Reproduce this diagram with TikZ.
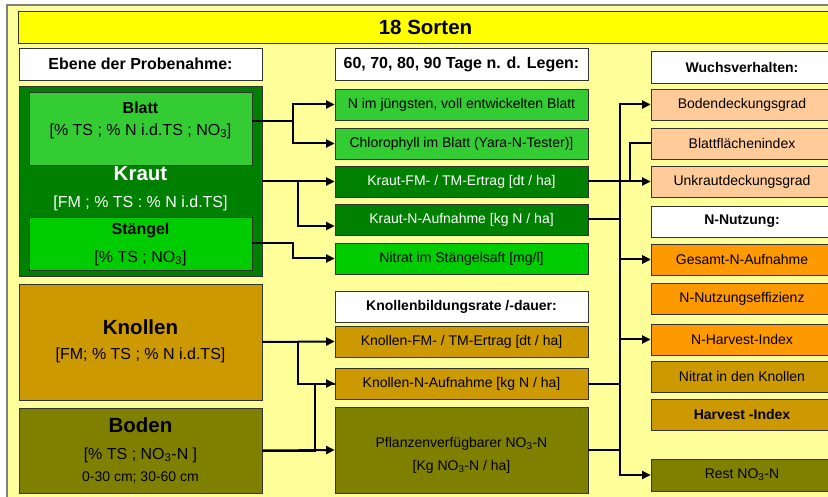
\documentclass[tikz,border=0pt]{standalone}
\usepackage{fontspec}
\setmainfont{Liberation Sans}
\usetikzlibrary{arrows.meta,positioning,calc,shadows}
\definecolor{paleyellow}{HTML}{FFFF99}
\definecolor{titleyellow}{HTML}{FFFF00}
\definecolor{krautgreen}{HTML}{008000}
\definecolor{leafgreen}{HTML}{33CC33}
\definecolor{stemgreen}{HTML}{00CC00}
\definecolor{tuberbrown}{HTML}{CC9900}
\definecolor{soilolive}{HTML}{808000}
\definecolor{peach}{HTML}{FFCC99}
\definecolor{nitroorange}{HTML}{FF9900}

\begin{document}
\begin{tikzpicture}[
    x=1pt, y=-1pt,
    cell/.style={rectangle, draw=black!80, line width=0.7pt, inner sep=0pt, align=center,
        drop shadow={shadow xshift=1.2pt, shadow yshift=-1.2pt, opacity=0.4, fill=black}},
    midbox/.style={cell, fill=#1, minimum width=253pt, minimum height=31pt, font=\fontsize{14}{17}\selectfont},
    sidebox/.style={cell, fill=#1, minimum width=182pt, minimum height=31pt, font=\fontsize{14}{17}\selectfont},
    headbox/.style={cell, fill=white, minimum height=32pt, font=\fontsize{16}{19}\selectfont\bfseries},
    smallhead/.style={headbox, minimum height=31pt, font=\fontsize{14}{17}\selectfont\bfseries},
    bigtext/.style={inner sep=0pt, font=\fontsize{20.5}{24}\selectfont\bfseries},
    nametext/.style={inner sep=0pt, font=\fontsize{16}{19}\selectfont\bfseries},
    subtext/.style={inner sep=0pt, font=\fontsize{16}{19}\selectfont},
    link/.style={-{Triangle[length=8.5pt, width=8pt]}, line width=2pt},
    wire/.style={line width=2pt}
]
\useasboundingbox (0,0) rectangle (828,497);

% Frame
\fill[white] (0,0) rectangle (828,497);
\draw[fill=paleyellow, draw=gray, line width=1.5pt] (7,5) rectangle (860,520);
\node[cell, fill=titleyellow, minimum width=815pt, minimum height=32pt,
      font=\fontsize{20.5}{24}\selectfont\bfseries] (title) at (425.5,27) {18 Sorten};

% Headers
\node[headbox, minimum width=243pt] (ebene) at (140.5,64) {Ebene der Probenahme:};
\node[headbox, minimum width=253pt] (tage) at (461.5,64) {60, 70, 80, 90 Tage n. d. Legen:};
\node[smallhead, minimum width=182pt, minimum height=32pt] (wuchs) at (742,67) {Wuchsverhalten:};

% Sampling levels
\node[cell, fill=krautgreen, minimum width=243pt, minimum height=190pt] (kraut) at (140.5,181) {};
\node[cell, fill=leafgreen, minimum width=223pt, minimum height=73pt] (blatt) at (140.5,128.5) {};
\node[nametext] (blattname) at (140.5,108) {Blatt};
\node[subtext] (blattunit) at (140.5,131) {[\% TS ; \% N i.d.TS ; NO\textsubscript{3}]};
\node[bigtext, text=white] (krautname) at (140.5,174) {Kraut};
\node[subtext, text=white] (krautunit) at (140.5,203) {[FM ; \% TS : \% N i.d.TS]};
\node[cell, fill=stemgreen, minimum width=223pt, minimum height=53pt] (staengel) at (140.5,243.5) {};
\node[nametext] (staengelname) at (140.5,230) {Stängel};
\node[subtext] (staengelunit) at (140.5,258) {[\% TS ; NO\textsubscript{3}]};

\node[cell, fill=tuberbrown, minimum width=243pt, minimum height=116pt] (knollen) at (140.5,342) {};
\node[bigtext] (knollenname) at (140.5,327) {Knollen};
\node[subtext] (knollenunit) at (140.5,355) {[FM; \% TS ; \% N i.d.TS]};

\node[cell, fill=soilolive, minimum width=243pt, minimum height=85pt] (boden) at (140.5,450.5) {};
\node[bigtext] (bodenname) at (140.5,425) {Boden};
\node[subtext] (bodenunit) at (140.5,455) {[\% TS ; NO\textsubscript{3}-N ]};
\node[inner sep=0pt, font=\fontsize{14}{17}\selectfont] (bodendepth) at (140.5,478) {0-30 cm; 30-60 cm};

% Measurements
\node[midbox=leafgreen] (jungblatt) at (461.5,104.5) {N im jüngsten, voll entwickelten Blatt};
\node[midbox=leafgreen] (chloro) at (461.5,143.5) {Chlorophyll im Blatt (Yara-N-Tester)]};
\node[midbox=krautgreen, text=white] (krautfm) at (461.5,181.5) {Kraut-FM- / TM-Ertrag [dt / ha]};
\node[midbox=krautgreen, text=white] (krautn) at (461.5,219.5) {Kraut-N-Aufnahme [kg N / ha]};
\node[midbox=stemgreen] (nitrat) at (461.5,258.5) {Nitrat im Stängelsaft [mg/l]};
\node[smallhead, minimum width=253pt] (knollhead) at (461.5,306.5) {Knollenbildungsrate /-dauer:};
\node[midbox=tuberbrown] (knollfm) at (461.5,341.5) {Knollen-FM- / TM-Ertrag [dt / ha]};
\node[midbox=tuberbrown] (knolln) at (461.5,383.5) {Knollen-N-Aufnahme [kg N / ha]};
\node[midbox=soilolive, minimum height=86pt] (pflanz) at (461.5,450) {};
\node[inner sep=0pt, align=center, font=\fontsize{14}{17}\selectfont] (pflanztext) at (461.5,455)
    {Pflanzenverfügbarer NO\textsubscript{3}-N\\[6pt]{[}Kg NO\textsubscript{3}-N / ha]};

% Derived values
\node[sidebox=peach] (bodend) at (742,104.5) {Bodendeckungsgrad};
\node[sidebox=peach] (blattfl) at (742,143.5) {Blattflächenindex};
\node[sidebox=peach] (unkraut) at (742,181.5) {Unkrautdeckungsgrad};
\node[smallhead, minimum width=182pt] (nnutz) at (742,221.5) {N-Nutzung:};
\node[sidebox=nitroorange] (gesamt) at (742,259.5) {Gesamt-N-Aufnahme};
\node[sidebox=nitroorange] (neff) at (742,298.5) {N-Nutzungseffizienz};
\node[sidebox=nitroorange] (nharv) at (742,339.5) {N-Harvest-Index};
\node[sidebox=tuberbrown] (nitratkn) at (742,376.5) {Nitrat in den Knollen};
\node[sidebox=tuberbrown] (harvest) at (742,414.5) {\textbf{Harvest -Index}};
\node[sidebox=soilolive, minimum height=32pt] (rest) at (742,475) {Rest NO\textsubscript{3}-N};

% Arrows, left
\draw[link] ($(blatt.east)+(0,-7.5)$) -- ++(41,0) |- (jungblatt.west);
\draw[link] ($(blatt.east)+(0,-7.5)$) -- ++(41,0) |- (chloro.west);
\draw[link] (kraut.east) -- ++(36,0) |- (krautfm.west);
\draw[link] (kraut.east) -- ++(36,0) |- ($(krautn.west)+(0,6.5)$);
\draw[link] (staengel.east) -- ++(41,0) |- (nitrat.west);
\draw[link] (knollen.east) -- (knollfm.west);
\draw[link] (knollen.east) -- ++(36,0) |- (knolln.west);
\draw[link] (boden.east) -- (pflanz.west);
\draw[wire] (boden.east) -- ++(53,0) |- (knolln.west);

% Arrows, right
\draw[link] (krautfm.east) -- (unkraut.west);
\draw[wire] (krautfm.east) -- ++(42,0) |- (blattfl.west);
\draw[link] (krautn.east) -- ++(32,0) |- (bodend.west);
\draw[link] (krautn.east) -- ++(32,0) |- (gesamt.west);
\draw[link] (knolln.east) -- ++(32,0) |- (gesamt.west);
\draw[link] (knolln.east) -- ++(32,0) |- (nharv.west);
\draw[link] (knolln.east) -- ++(32,0) |- (rest.west);
\draw[wire] (pflanz.east) -- ++(32,0);

\end{tikzpicture}
\end{document}
